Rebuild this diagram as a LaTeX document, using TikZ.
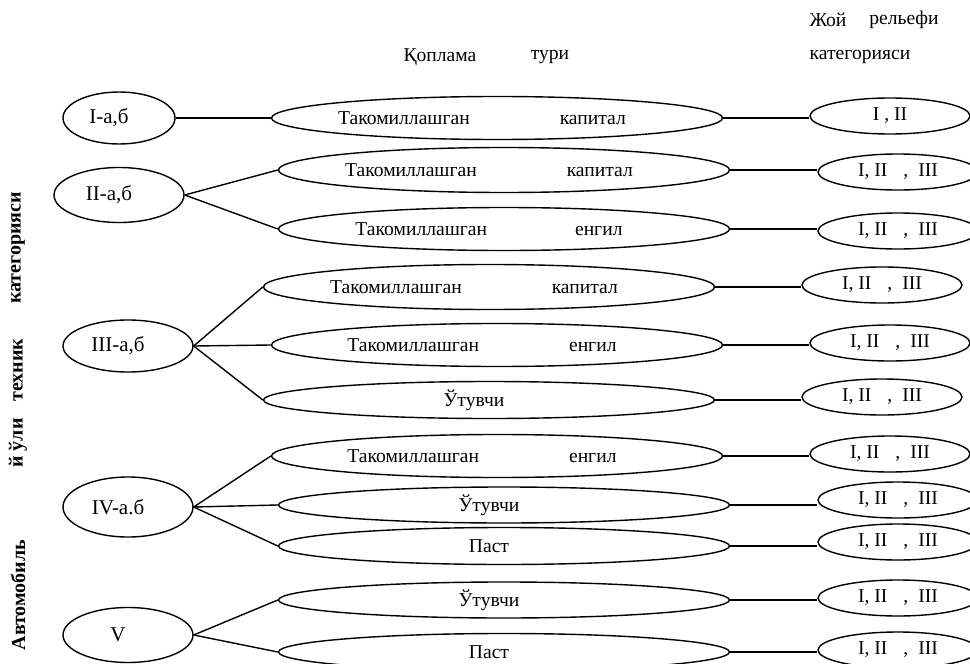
\documentclass[tikz,border=0pt]{standalone}
\usepackage{fontspec}
\setmainfont{Liberation Serif}
\usetikzlibrary{shapes.geometric}

\begin{document}
\begin{tikzpicture}[
  x=0.5pt, y=-0.5pt,
  every node/.style={font=\fontsize{9.8}{12}\selectfont},
  klass/.style={ellipse, draw, line width=0.7pt, minimum width=65pt, minimum height=27.5pt, inner sep=0pt},
  qoplama/.style={ellipse, draw, line width=0.7pt, minimum width=225.5pt, minimum height=21.5pt, inner sep=0pt},
  relef/.style={ellipse, draw, line width=0.7pt, minimum width=80pt, minimum height=18pt, inner sep=0pt},
  yozuv/.style={xshift=-7.5pt},
  kyozuv/.style={xshift=-5pt, font=\fontsize{10.5}{12}\selectfont},
  vert/.style={rotate=90, font=\fontsize{10}{12}\selectfont\bfseries},
  link/.style={line width=0.7pt}
]
  \useasboundingbox (0,0) rectangle (970,664);
  \clip (0,0) rectangle (970,664);

  % Headers
  \node (h1) at (440,57) {Қоплама};
  \node (h2) at (550,57) {тури};
  \node (h3) at (828,20) {Жой};
  \node (h4) at (904,20) {рельефи};
  \node (h5) at (860,57) {категорияси};

  % Vertical title
  \node[vert] (v1) at (18,595) {Автомобиль};
  \node[vert] (v2) at (18,443) {й ўли};
  \node[vert] (v3) at (18,370) {техник};
  \node[vert] (v4) at (18,248) {категорияси};

  % Road classes
  \node[klass, minimum width=56pt, minimum height=26pt, label={[kyozuv]center:I-а,б}] (l1) at (119,118) {};
  \node[klass, label={[kyozuv]center:II-а,б}] (l2) at (119,195) {};
  \node[klass, minimum height=26pt, label={[kyozuv]center:III-а,б}] (l3) at (128,346) {};
  \node[klass, minimum height=30pt, label={[kyozuv]center:IV-а.б}] (l4) at (128,507) {};
  \node[klass, label={[kyozuv]center:V}] (l5) at (128,635) {};

  % Pavement types
  \node[qoplama, label={[yozuv]center:Такомиллашган\hspace{45pt}капитал}] (m1) at (497,118) {};
  \node[qoplama, minimum height=22.5pt, label={[yozuv]center:Такомиллашган\hspace{45pt}капитал}] (m2) at (504,170) {};
  \node[qoplama, label={[yozuv]center:Такомиллашган\hspace{44pt}енгил}] (m3) at (504,229) {};
  \node[qoplama, minimum height=22.5pt, label={[yozuv]center:Такомиллашган\hspace{45pt}капитал}] (m4) at (489,287) {};
  \node[qoplama, label={[yozuv]center:Такомиллашган\hspace{45pt}енгил}] (m5) at (497,345) {};
  \node[qoplama, minimum height=18.5pt, label={[yozuv]center:Ўтувчи}] (m6) at (489,400) {};
  \node[qoplama, label={[yozuv]center:Такомиллашган\hspace{45pt}енгил}] (m7) at (497,456) {};
  \node[qoplama, minimum height=18pt, label={[yozuv]center:Ўтувчи}] (m8) at (504,505) {};
  \node[qoplama, minimum height=18.5pt, label={[yozuv]center:Паст}] (m9) at (504,546) {};
  \node[qoplama, minimum height=18pt, label={[yozuv]center:Ўтувчи}] (m10) at (504,600) {};
  \node[qoplama, minimum height=18.5pt, label={[yozuv]center:Паст}] (m11) at (504,652) {};

  % Relief categories
  \node[relef] (r1) at (890,116) {I , II};
  \node[relef] (r2) at (898,172) {I, II\hspace{8pt},\hspace{5pt}III};
  \node[relef] (r3) at (898,231) {I, II\hspace{8pt},\hspace{5pt}III};
  \node[relef] (r4) at (882,285) {I, II\hspace{8pt},\hspace{5pt}III};
  \node[relef] (r5) at (890,343) {I, II\hspace{8pt},\hspace{5pt}III};
  \node[relef] (r6) at (882,397) {I, II\hspace{8pt},\hspace{5pt}III};
  \node[relef] (r7) at (890,454) {I, II\hspace{8pt},\hspace{5pt}III};
  \node[relef] (r8) at (898,500) {I, II\hspace{8pt},\hspace{5pt}III};
  \node[relef] (r9) at (898,542) {I, II\hspace{8pt},\hspace{5pt}III};
  \node[relef] (r10) at (898,598) {I, II\hspace{8pt},\hspace{5pt}III};
  \node[relef] (r11) at (898,650) {I, II\hspace{8pt},\hspace{5pt}III};

  % Links
  \draw[link] (l1.east) -- (m1.west);
  \foreach \m in {m2,m3} \draw[link] (l2.east) -- (\m.west);
  \foreach \m in {m4,m5,m6} \draw[link] (l3.east) -- (\m.west);
  \foreach \m in {m7,m8,m9} \draw[link] (l4.east) -- (\m.west);
  \foreach \m in {m10,m11} \draw[link] (l5.east) -- (\m.west);
  \foreach \i in {1,...,11} \draw[link] (m\i.east) -- (m\i.east -| r\i.west);
\end{tikzpicture}
\end{document}
